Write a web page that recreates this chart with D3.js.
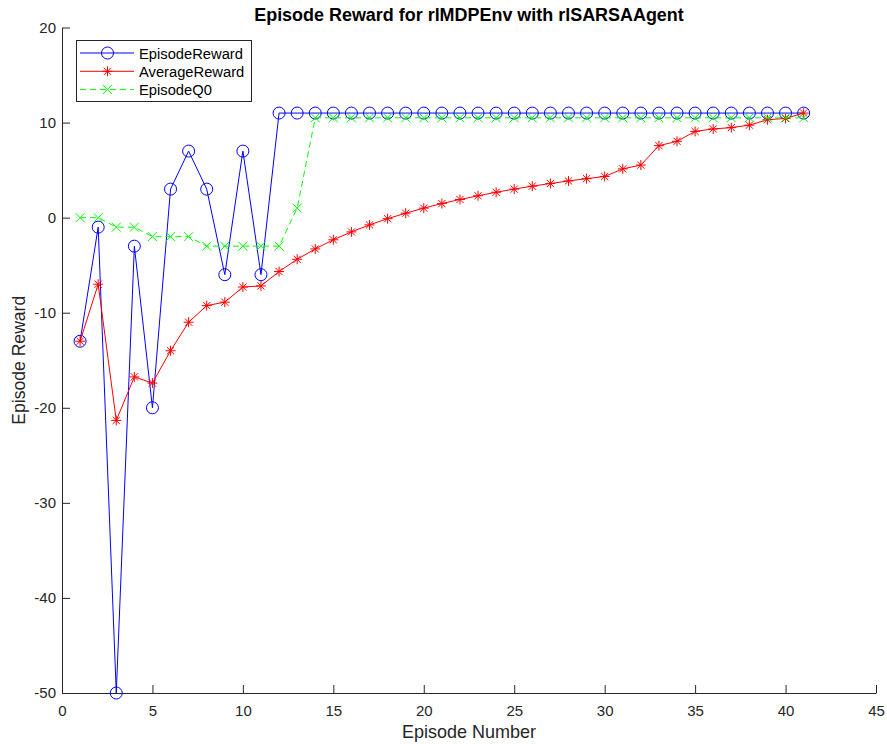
<!DOCTYPE html>
<html><head><meta charset="utf-8">
<script src="https://cdn.jsdelivr.net/npm/d3@7"></script>
<style>body{margin:0;background:#fff;} svg{display:block;font-family:"Liberation Sans",Arial,Helvetica,sans-serif;}</style>
</head><body>
<svg id="chart" width="887" height="744"></svg>
<script>
const episodes = d3.range(1, 42);
const episodeReward = [-13,-1,-50,-3,-20,3,7,3,-6,7,-6,11,11,11,11,11,11,11,11,11,11,11,11,11,11,11,11,11,11,11,11,11,11,11,11,11,11,11,11,11,11];
const averageReward = [-13,-7,-21.33,-16.75,-17.4,-14,-11,-9.25,-8.89,-7.3,-7.18,-5.67,-4.38,-3.29,-2.33,-1.5,-0.76,-0.11,0.47,1.0,1.48,1.91,2.3,2.67,3.0,3.31,3.59,3.86,4.1,4.33,5.13,5.53,7.57,8.03,9.07,9.33,9.47,9.73,10.3,10.43,11.0];
const episodeQ0 = [0,0,-1,-1,-2,-2,-2,-3,-3,-3,-3,-3,1,10.5,10.5,10.5,10.5,10.5,10.5,10.5,10.5,10.5,10.5,10.5,10.5,10.5,10.5,10.5,10.5,10.5,10.5,10.5,10.5,10.5,10.5,10.5,10.5,10.5,10.5,10.5,10.5];
const xTicks = [0,5,10,15,20,25,30,35,40,45];
const yTicks = [-50,-40,-30,-20,-10,0,10,20];
const seriesNames = ["EpisodeReward","AverageReward","EpisodeQ0"];

const svg = d3.select("#chart");
const x = d3.scaleLinear().domain([0,45]).range([62,876]);
const y = d3.scaleLinear().domain([-50,20]).range([693,27.5]);
const axisColor = "#262626";

// fit a text element's font size so its rendered width matches a target width
function fitWidth(sel, target, base){
  sel.style("font-size", base + "px");
  const w = sel.node().getComputedTextLength();
  if (w > 0) sel.style("font-size", (base * target / w).toFixed(2) + "px");
  return sel;
}

// axes
const fmt = d => String(d);
const xa = svg.append("g").attr("transform",`translate(0,${y(-50)})`)
  .call(d3.axisBottom(x).tickValues(xTicks).tickFormat(fmt).tickSizeInner(-8).tickSizeOuter(0).tickPadding(12));
const ya = svg.append("g").attr("transform",`translate(${x(0)},0)`)
  .call(d3.axisLeft(y).tickValues(yTicks).tickFormat(fmt).tickSizeInner(-8).tickSizeOuter(0).tickPadding(6));
[xa,ya].forEach(a=>{
  a.select(".domain").attr("stroke",axisColor);
  a.selectAll(".tick line").attr("stroke",axisColor);
  a.selectAll(".tick text").attr("fill",axisColor).style("font-size","15px").style("font-family","'Liberation Sans',Arial,sans-serif");
});

// title and labels
const title = svg.append("text").attr("x",(x(0)+x(45))/2).attr("y",21).attr("text-anchor","middle")
  .style("font-weight","bold").attr("fill","#000")
  .text("Episode Reward for rlMDPEnv with rlSARSAAgent");
fitWidth(title, 430, 16);
const xl = svg.append("text").attr("x",(x(0)+x(45))/2).attr("y",738).attr("text-anchor","middle")
  .attr("fill",axisColor).text("Episode Number");
fitWidth(xl, 134, 17);
const yl = svg.append("text").attr("transform",`translate(25,${(y(-50)+y(20))/2}) rotate(-90)`).attr("text-anchor","middle")
  .attr("fill",axisColor).text("Episode Reward");
fitWidth(yl, 129, 17);

const line = d3.line().x((d,i)=>x(episodes[i])).y(d=>y(d));
const blue="#0000ff", red="#ff0000", green="#00ff00";

function drawMarker(g, type, cx, cy, color){
  if(type==="o"){
    g.append("circle").attr("cx",cx).attr("cy",cy).attr("r",6).attr("fill","none").attr("stroke",color).attr("stroke-width",1);
  } else if(type==="*"){
    const s=5, t=3.6;
    g.append("path").attr("d",`M${cx-s},${cy}L${cx+s},${cy}M${cx},${cy-s}L${cx},${cy+s}M${cx-t},${cy-t}L${cx+t},${cy+t}M${cx-t},${cy+t}L${cx+t},${cy-t}`)
      .attr("stroke",color).attr("stroke-width",1).attr("fill","none");
  } else if(type==="x"){
    const t=4.5;
    g.append("path").attr("d",`M${cx-t},${cy-t}L${cx+t},${cy+t}M${cx-t},${cy+t}L${cx+t},${cy-t}`)
      .attr("stroke",color).attr("stroke-width",1).attr("fill","none");
  }
}

const series = [
  {name:seriesNames[0], data:episodeReward, color:blue, marker:"o", dash:null},
  {name:seriesNames[1], data:averageReward, color:red, marker:"*", dash:null},
  {name:seriesNames[2], data:episodeQ0, color:green, marker:"x", dash:"6,4"}
];

series.forEach(s=>{
  const g = svg.append("g");
  g.append("path").attr("d",line(s.data)).attr("fill","none").attr("stroke",s.color).attr("stroke-width",1)
    .attr("stroke-dasharray",s.dash);
  s.data.forEach((v,i)=>drawMarker(g,s.marker,x(episodes[i]),y(v),s.color));
});

// legend
const lg = svg.append("g");
lg.append("rect").attr("x",76.5).attr("y",40.5).attr("width",175).attr("height",61)
  .attr("fill","#fff").attr("stroke",axisColor).attr("stroke-width",1);
let legendSize = null;
series.forEach((s,i)=>{
  const ly = 53 + i*18.3;
  lg.append("line").attr("x1",80).attr("x2",134).attr("y1",ly).attr("y2",ly)
    .attr("stroke",s.color).attr("stroke-width",1).attr("stroke-dasharray",s.dash);
  drawMarker(lg,s.marker,107.5,ly,s.color);
  const t = lg.append("text").attr("x",139).attr("y",ly+5.5).attr("fill","#000").text(s.name);
  if (i===0) { fitWidth(t, 104, 14); legendSize = t.style("font-size"); }
  else t.style("font-size", legendSize);
});
</script>
</body></html>
